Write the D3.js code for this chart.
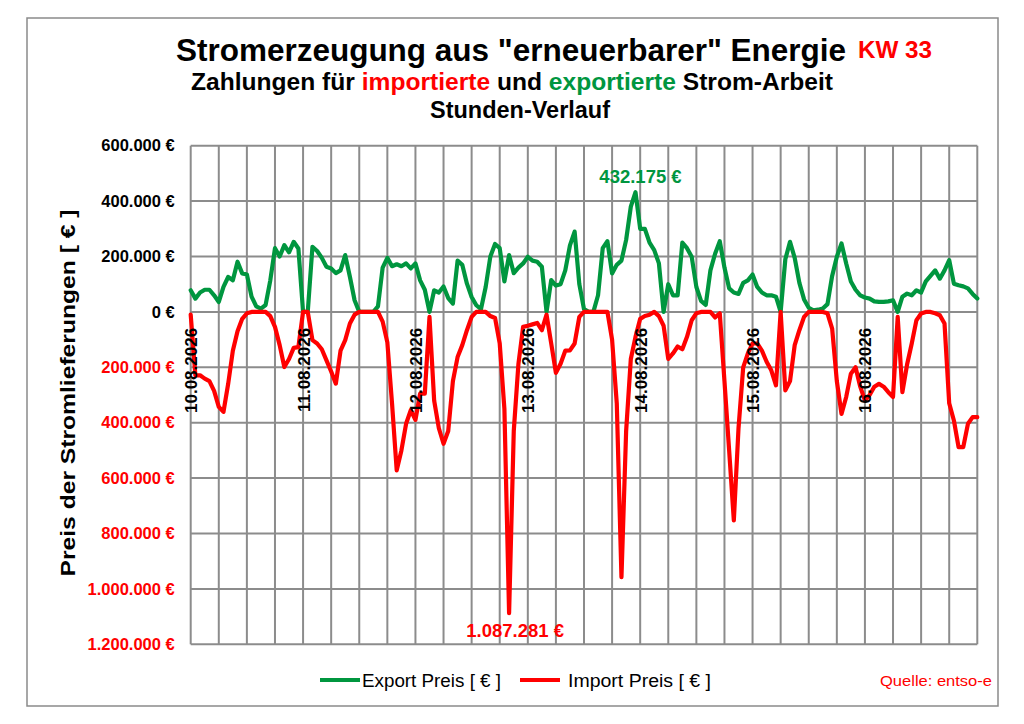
<!DOCTYPE html>
<html><head><meta charset="utf-8">
<script src="https://cdn.jsdelivr.net/npm/d3@7"></script>
<style>
html,body{margin:0;padding:0;background:#fff;}
svg text{font-family:"Liberation Sans",Arial,Helvetica,sans-serif;}
</style></head>
<body><svg id="c" width="1024" height="724"></svg>
<script>
// Hours 0..168 (KW 33, 10.08.2026 00:00 .. 17.08.2026 00:00), values in thousand €
const hours = d3.range(0, 169);
const exportK = [78,48,70,80,80,60,36,90,126,114,
 181,139,135,55,20,12,25,114,230,200,
 241,215,253,229,0,0,235,220,195,163,
 157,140,150,205,127,42,0,0,0,0,
 20,160,195,165,172,165,175,157,175,114,
 80,0,78,70,92,50,30,185,170,102,
 54,24,10,90,200,245,230,110,205,140,
 160,175,199,185,181,163,0,115,95,100,
 150,240,290,100,10,0,0,60,230,255,
 139,170,185,260,380,432.175,300,300,250,223,
 175,0,100,60,60,250,230,199,90,40,
 25,150,210,255,160,85,70,65,105,114,
 135,90,70,60,60,55,0,190,253,195,
 105,45,15,6,8,12,28,130,199,247,
 175,110,80,60,52,48,38,36,36,38,
 42,0,55,66,60,78,70,110,130,150,
 120,150,187,102,96,92,85,65,48];
const importK = [-10,-229,-229,-241,-250,-285,-343,-361,-260,-140,
 -70,-25,-5,0,0,0,0,-15,-54,-120,
 -199,-170,-130,-127,0,0,-102,-114,-135,-175,
 -215,-259,-140,-102,-42,-10,0,0,0,0,
 0,-35,-110,-330,-572,-500,-404,-355,-390,-295,
 -295,-18,-320,-420,-476,-430,-250,-163,-120,-66,
 -18,0,0,0,-15,-22,-114,-350,-1087.281,-430,
 -187,-54,-50,-45,-40,-66,-10,-114,-220,-187,
 -140,-139,-114,-18,0,0,0,0,0,0,
 -100,-330,-958,-430,-170,-90,-25,-15,-10,0,
 -15,-50,-170,-150,-125,-135,-90,-30,-5,0,
 0,0,-20,-5,-250,-500,-753,-420,-200,-150,
 -114,-114,-140,-180,-211,-265,0,-283,-250,-120,
 -66,-18,0,0,0,0,-5,-60,-250,-368,
 -307,-223,-200,-270,-320,-300,-270,-260,-270,-290,
 -307,-18,-290,-190,-114,-30,-6,0,0,-5,
 -12,-42,-330,-392,-488,-488,-404,-380,-380];
const dateLabels = ["10.08.2026","11.08.2026","12.08.2026","13.08.2026","14.08.2026","15.08.2026","16.08.2026"];
const dateHours = [0,24,48,72,96,120,144];
const yTicks = [600,400,200,0,-200,-400,-600,-800,-1000,-1200];
const gridHours = d3.range(0,169,6);
const exportMax = {h:95, v:432.175, label:"432.175 €"};
const importMin = {h:68, v:-1087.281, label:"1.087.281 €"};

const svg = d3.select("#c");
const FONT = '"Liberation Sans",Arial,Helvetica,sans-serif';
const GREEN = "#00963f", RED = "#ff0000", GRID = "#8c8c8c";

// outer frame
svg.append("rect").attr("x",27).attr("y",18).attr("width",971).attr("height",688)
  .attr("fill","#fff").attr("stroke","#8a8a8a").attr("stroke-width",1.5);

const x = d3.scaleLinear().domain([0,168]).range([190.7,977.3]);
const y = d3.scaleLinear().domain([-1200,600]).range([644.3,145.7]);

// grid
const g = svg.append("g");
g.selectAll("line.v").data(gridHours).join("line").attr("class","v")
  .attr("x1",d=>x(d)).attr("x2",d=>x(d)).attr("y1",y(600)).attr("y2",y(-1200))
  .attr("stroke",GRID).attr("stroke-width",2);
g.selectAll("line.h").data(yTicks).join("line").attr("class","h")
  .attr("x1",x(0)).attr("x2",x(168)).attr("y1",d=>y(d)).attr("y2",d=>y(d))
  .attr("stroke",GRID).attr("stroke-width",2);

// y axis labels
const fmt = v => (v===0 ? "0" : d3.format(",")(Math.abs(v)*1000).replace(/,/g,".")) + " €";
const ax = svg.append("g").attr("transform",`translate(${x(0)},0)`)
  .call(d3.axisLeft(y).tickValues(yTicks).tickSize(0).tickPadding(16).tickFormat(fmt));
ax.select(".domain").remove();
ax.selectAll("text").attr("font-family",FONT).attr("font-size",16.5).attr("font-weight","bold")
  .attr("fill",d=>d<0?RED:"#000");

// lines
const line = d3.line().x((d,i)=>x(hours[i])).y(d=>y(d));
svg.append("path").datum(exportK).attr("d",line).attr("fill","none")
  .attr("stroke",GREEN).attr("stroke-width",4.2).attr("stroke-linejoin","round").attr("stroke-linecap","round");
svg.append("path").datum(importK).attr("d",line).attr("fill","none")
  .attr("stroke",RED).attr("stroke-width",4.2).attr("stroke-linejoin","round").attr("stroke-linecap","round");

// date labels
svg.selectAll("text.date").data(dateLabels).join("text").attr("class","date")
  .attr("transform",(d,i)=>`translate(${x(dateHours[i])+1},${y(0)+16}) rotate(-90)`)
  .attr("text-anchor","end").attr("dominant-baseline","central")
  .attr("font-size",17).attr("font-weight","bold").attr("fill","#000").text(d=>d);

// annotations
svg.append("text").attr("x",x(exportMax.h)+5).attr("y",y(exportMax.v)-9)
  .attr("text-anchor","middle").attr("font-size",18.5).attr("font-weight","bold")
  .attr("fill",GREEN).text(exportMax.label);
svg.append("text").attr("x",x(importMin.h)+6).attr("y",y(importMin.v)+24)
  .attr("text-anchor","middle").attr("font-size",18.5).attr("font-weight","bold")
  .attr("fill",RED).text(importMin.label);

// titles
svg.append("text").attr("x",176).attr("y",61).attr("font-size",31).attr("font-weight","bold")
  .attr("textLength",670).attr("lengthAdjust","spacingAndGlyphs")
  .text('Stromerzeugung aus "erneuerbarer" Energie');
svg.append("text").attr("x",858).attr("y",58).attr("font-size",23).attr("font-weight","bold")
  .attr("fill",RED).attr("textLength",74).attr("lengthAdjust","spacingAndGlyphs").text("KW 33");
const t2 = svg.append("text").attr("x",191).attr("y",90).attr("font-size",23.5).attr("font-weight","bold")
  .attr("textLength",642).attr("lengthAdjust","spacingAndGlyphs");
[["Zahlungen für ","#000"],["importierte",RED],[" und ","#000"],["exportierte",GREEN],[" Strom-Arbeit","#000"]]
  .forEach(([s,c])=>t2.append("tspan").attr("fill",c).text(s));
svg.append("text").attr("x",430).attr("y",118).attr("font-size",23.5).attr("font-weight","bold")
  .attr("textLength",180).attr("lengthAdjust","spacingAndGlyphs").text("Stunden-Verlauf");

// y title
svg.append("text").attr("transform","translate(68,393) rotate(-90)")
  .attr("text-anchor","middle").attr("dominant-baseline","central")
  .attr("font-size",20).attr("font-weight","bold")
  .attr("textLength",367).attr("lengthAdjust","spacingAndGlyphs")
  .text("Preis der Stromlieferungen [ € ]");

// legend
const leg = [{label:"Export Preis [ € ]",color:GREEN,x0:320,tx:362,tl:139},
             {label:"Import Preis [ € ]",color:RED,x0:520,tx:568,tl:143}];
leg.forEach(l=>{
  svg.append("line").attr("x1",l.x0).attr("x2",l.x0+40).attr("y1",680).attr("y2",680)
    .attr("stroke",l.color).attr("stroke-width",4);
  svg.append("text").attr("x",l.tx).attr("y",687).attr("font-size",18)
    .attr("textLength",l.tl).attr("lengthAdjust","spacingAndGlyphs").text(l.label);
});
svg.append("text").attr("x",880).attr("y",686).attr("font-size",14.5).attr("fill",RED)
  .attr("textLength",112).attr("lengthAdjust","spacingAndGlyphs").text("Quelle: entso-e");
</script></body></html>
